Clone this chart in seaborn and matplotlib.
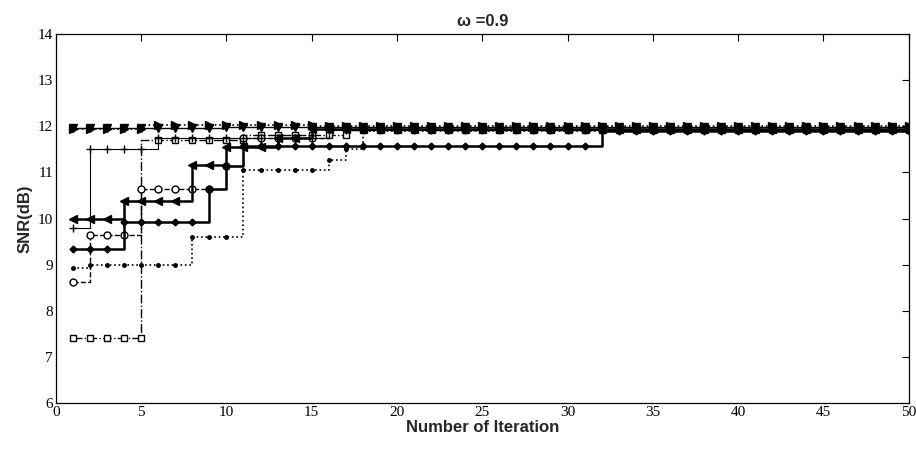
import numpy as np
import matplotlib
matplotlib.use('Agg')
import matplotlib.pyplot as plt
import seaborn as sns

# iterations 1..50, each curve given as SNR levels and how many iterations each level lasts
iterations = np.arange(1, 51)

tri_right_snr = [11.95, 12.03, 12.0]
tri_right_runs = [5, 10, 35]

square_snr = [7.42, 11.7, 11.82, 11.93]
square_runs = [5, 6, 6, 33]

circle_snr = [8.62, 9.65, 10.65, 11.15, 11.75, 11.95]
circle_runs = [1, 3, 5, 1, 5, 35]

tri_left_snr = [10.0, 10.38, 11.16, 11.55, 11.75, 11.95]
tri_left_runs = [3, 4, 2, 3, 2, 36]

diamond_snr = [9.35, 9.93, 10.65, 11.15, 11.58, 11.9]
diamond_runs = [3, 5, 1, 1, 21, 19]

plus_snr = [9.8, 11.5, 11.75, 11.92]
plus_runs = [1, 4, 10, 35]

dot_snr = [8.92, 9.0, 9.6, 11.05, 11.26, 11.5, 11.9]
dot_runs = [1, 6, 3, 5, 1, 1, 33]

tri_down_snr = [11.97, 11.98]
tri_down_runs = [9, 41]

curves = [
    (tri_right_snr, tri_right_runs, dict(marker='>', linestyle=':', linewidth=1.2, markersize=5.5,
                                         markerfacecolor='black', drawstyle='steps-pre')),
    (square_snr, square_runs, dict(marker='s', linestyle='-.', linewidth=1.0, markersize=5,
                                   markerfacecolor='white', drawstyle='steps-pre')),
    (circle_snr, circle_runs, dict(marker='o', linestyle='--', linewidth=1.0, markersize=5,
                                   markerfacecolor='white', drawstyle='steps-post')),
    (tri_left_snr, tri_left_runs, dict(marker='<', linestyle='-', linewidth=1.8, markersize=6,
                                       markerfacecolor='black', drawstyle='steps-post')),
    (diamond_snr, diamond_runs, dict(marker='D', linestyle='-', linewidth=1.8, markersize=3.5,
                                     markerfacecolor='black', drawstyle='steps-post')),
    (plus_snr, plus_runs, dict(marker='+', linestyle='-', linewidth=0.8, markersize=6,
                               markerfacecolor='black', drawstyle='steps-post')),
    (dot_snr, dot_runs, dict(marker='.', linestyle=':', linewidth=1.2, markersize=5,
                             markerfacecolor='black', drawstyle='steps-post')),
    (tri_down_snr, tri_down_runs, dict(marker='v', linestyle='-', linewidth=1.0, markersize=5.5,
                                       markerfacecolor='black', drawstyle='steps-post')),
]

sns.set_theme(style='white')
plt.rcParams['font.family'] = ['Liberation Serif', 'DejaVu Serif']

fig = plt.figure(figsize=(9.16, 4.54), dpi=100)
ax = fig.add_axes([0.061, 0.112, 0.931, 0.813])

for levels, runs, style in curves:
    snr = np.repeat(levels, runs)
    sns.lineplot(x=iterations, y=snr, ax=ax, color='black',
                 markeredgecolor='black', markeredgewidth=1.0, legend=False, **style)

ax.set_xlim(0, 50)
ax.set_ylim(6, 14)
ax.set_xticks(np.arange(0, 51, 5))
ax.set_yticks(np.arange(6, 15, 1))
ax.tick_params(direction='in', top=True, right=True, length=5, width=0.8,
               labelsize=11, colors='black', pad=2)
for sp in ax.spines.values():
    sp.set_color('black')
    sp.set_linewidth(0.9)

lab_font = dict(family=['Liberation Sans', 'DejaVu Sans'], weight='bold', size=12)
ax.set_xlabel('Number of Iteration', labelpad=1, **lab_font)
ax.set_ylabel('SNR(dB)', labelpad=4, **lab_font)
ax.set_title('ω =0.9', pad=6, **lab_font)

fig.savefig('out.png', dpi=100)
